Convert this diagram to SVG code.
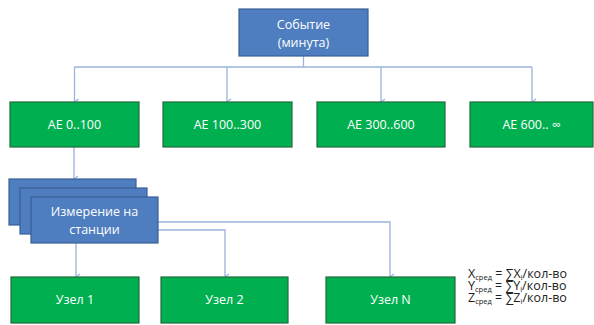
<svg xmlns="http://www.w3.org/2000/svg" width="594" height="325" viewBox="0 0 594 325">
<defs>
<style>
.blue{fill:#4F7EC0;stroke:#3A5F94;stroke-width:1.2}
.green{fill:#00B050;stroke:#1E6B3A;stroke-width:1.2}
.t{font-family:"Open Sans","Noto Sans","Liberation Sans",sans-serif;font-size:12.5px;fill:#FFFFFF;text-anchor:middle}
.c{fill:none;stroke:#9AB3DB;stroke-width:1.3}
.f{font-family:"Open Sans","Noto Sans","Liberation Sans",sans-serif;font-size:12.5px;fill:#222222}
.s{font-size:7.5px}
</style>
<marker id="arr" markerWidth="8" markerHeight="8" refX="4" refY="6" orient="auto-start-reverse" markerUnits="userSpaceOnUse" viewBox="0 0 8 8">
<path d="M1,2 L4,6 L7,2" fill="none" stroke="#9AB3DB" stroke-width="1.2"/>
</marker>
</defs>
<rect width="594" height="325" fill="#FFFFFF"/>
<g id="connectors">
<path class="c" d="M303.5,56 V67"/>
<path class="c" d="M74.5,67 H532"/>
<path class="c" d="M74.5,67 V102" marker-end="url(#arr)"/>
<path class="c" d="M227,67 V102" marker-end="url(#arr)"/>
<path class="c" d="M381,67 V102" marker-end="url(#arr)"/>
<path class="c" d="M532,67 V102" marker-end="url(#arr)"/>
<path class="c" d="M74,147 V179" marker-end="url(#arr)"/>
<path class="c" d="M76,243 V277" marker-end="url(#arr)"/>
<path class="c" d="M158,222 H390 V277" marker-end="url(#arr)"/>
<path class="c" d="M158,230 H225 V277" marker-end="url(#arr)"/>
</g>
<g id="event">
<rect class="blue" x="239" y="9" width="129" height="47"/>
<text class="t" x="303.5" y="29">Событие</text>
<text class="t" x="303.5" y="47">(минута)</text>
</g>
<g id="ae1">
<rect class="green" x="10" y="102" width="129" height="45"/>
<text class="t" x="74.5" y="129">AE 0..100</text>
</g>
<g id="ae2">
<rect class="green" x="163" y="102" width="129" height="45"/>
<text class="t" x="227.5" y="129">AE 100..300</text>
</g>
<g id="ae3">
<rect class="green" x="317" y="102" width="128" height="45"/>
<text class="t" x="381" y="129">AE 300..600</text>
</g>
<g id="ae4">
<rect class="green" x="470" y="102" width="123" height="45"/>
<text class="t" x="531.5" y="129">AE 600.. ∞</text>
</g>
<g id="measure">
<rect class="blue" x="9" y="179" width="127" height="46"/>
<rect class="blue" x="20" y="188" width="127" height="46"/>
<rect class="blue" x="31" y="197" width="127" height="46"/>
<text class="t" x="94.5" y="216">Измерение на</text>
<text class="t" x="94.5" y="234">станции</text>
</g>
<g id="node1">
<rect class="green" x="11" y="277" width="128" height="46"/>
<text class="t" x="75" y="304">Узел 1</text>
</g>
<g id="node2">
<rect class="green" x="161" y="277" width="127" height="46"/>
<text class="t" x="224.5" y="304">Узел 2</text>
</g>
<g id="nodeN">
<rect class="green" x="326" y="277" width="129" height="46"/>
<text class="t" x="390.5" y="304">Узел N</text>
</g>
<g id="formulas">
<text class="f" x="468" y="278"><tspan>X</tspan><tspan class="s" dy="1.5">сред</tspan><tspan dy="-1.5"> = ∑X</tspan><tspan class="s" dy="1.5">i</tspan><tspan dy="-1.5">/кол-во</tspan><tspan x="468" dy="12">Y</tspan><tspan class="s" dy="1.5">сред</tspan><tspan dy="-1.5"> = ∑Y</tspan><tspan class="s" dy="1.5">i</tspan><tspan dy="-1.5">/кол-во</tspan><tspan x="468" dy="12">Z</tspan><tspan class="s" dy="1.5">сред</tspan><tspan dy="-1.5"> = ∑Z</tspan><tspan class="s" dy="1.5">i</tspan><tspan dy="-1.5">/кол-во</tspan></text>
</g>
</svg>
